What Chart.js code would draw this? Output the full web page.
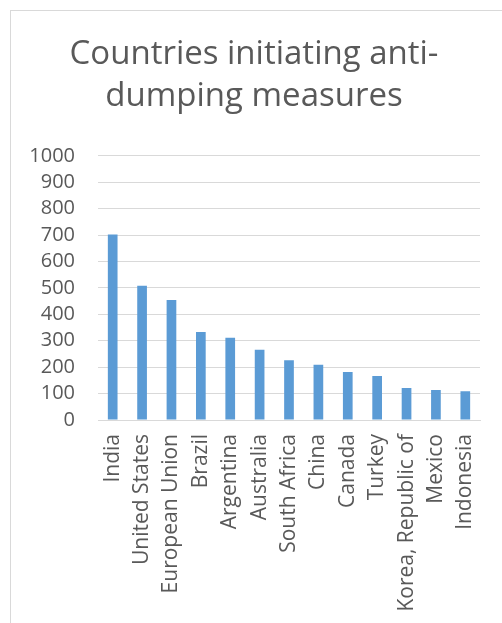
<!DOCTYPE html>
<html>
<head>
<meta charset="utf-8">
<script src="https://cdn.jsdelivr.net/npm/chart.js@4"></script>
<style>
  body { margin: 0; background: #fff; overflow: hidden; }
  .frame {
    position: absolute; left: 10px; top: 10px;
    width: 500px; height: 630px;
    border: 1px solid #d9d9d9; background: #fff;
  }
  .frame canvas { position: absolute; left: 0; top: 0; }
</style>
</head>
<body>
<div class="frame">
  <canvas id="adChart" width="488" height="612"></canvas>
</div>
<script>
const countries = ['India', 'United States', 'European Union', 'Brazil', 'Argentina', 'Australia',
  'South Africa', 'China', 'Canada', 'Turkey', 'Korea, Republic of', 'Mexico', 'Indonesia'];
const initiations = [702, 508, 454, 333, 311, 266, 226, 209, 182, 167, 121, 114, 109];
const titleLines = ['Countries initiating anti-', 'dumping measures'];

const textGrey = '#595959';
const fontFamily = "'Open Sans', sans-serif";

const ctx = document.getElementById('adChart').getContext('2d');
const adChart = new Chart(ctx, {
    type: 'bar',
    data: {
        labels: countries,
        datasets: [{
            data: initiations,
            backgroundColor: '#5b9bd5',
            borderWidth: 0,
            categoryPercentage: 1,
            barPercentage: 0.33
        }]
    },
    options: {
        responsive: false,
        animation: false,
        layout: { padding: { left: 17, right: 19, top: 0, bottom: 0 } },
        plugins: {
            legend: { display: false },
            tooltip: { enabled: false },
            title: {
                display: true,
                text: titleLines,
                color: textGrey,
                font: { size: 33, family: fontFamily, weight: 'normal', lineHeight: 1.27 },
                padding: { top: 23, bottom: 38 }
            }
        },
        scales: {
            x: {
                grid: { display: false, drawTicks: false },
                border: { color: '#d9d9d9', width: 1 },
                ticks: {
                    color: textGrey,
                    font: { size: 21, family: fontFamily },
                    minRotation: 90,
                    maxRotation: 90,
                    autoSkip: false,
                    padding: 14
                },
                // rotated labels fit inside the category band, no side padding needed
                afterFit: (scale) => {
                    scale.paddingLeft = 0;
                    scale.paddingRight = 0;
                    scale.height = 203;
                }
            },
            y: {
                min: 0,
                max: 1000,
                grid: { color: '#d9d9d9', lineWidth: 1, drawTicks: false },
                border: { display: false },
                ticks: {
                    stepSize: 100,
                    autoSkip: false,
                    color: textGrey,
                    font: { size: 20, family: fontFamily },
                    padding: 23,
                    callback: (value) => String(value)
                },
                afterFit: (scale) => {
                    scale.width = 70;
                }
            }
        }
    }
});
</script>
</body>
</html>
